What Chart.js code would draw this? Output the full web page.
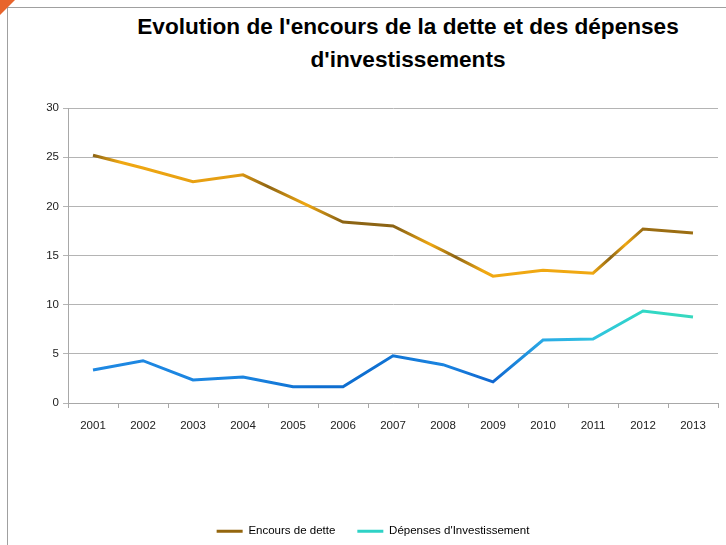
<!DOCTYPE html>
<html>
<head>
<meta charset="utf-8">
<script src="https://cdn.jsdelivr.net/npm/chart.js@4/dist/chart.umd.min.js"></script>
<style>
  body { margin: 0; width: 726px; height: 545px; overflow: hidden; position: relative; background: #fff; }
  #frame { position: absolute; left: 7px; top: 7px; width: 730px; height: 600px; border-left: 1px solid #a0a0a0; border-top: 1px solid #a0a0a0; }
  #corner { position: absolute; left: 0; top: 0; width: 0; height: 0; border-top: 15px solid #e8642c; border-right: 15px solid transparent; }
  #title { position: absolute; left: 0; top: 10px; width: 816px; text-align: center; font: bold 22.6px 'Liberation Sans Narrow', 'Arial Narrow', sans-serif; line-height: 33px; color: #000; }
  #chart { position: absolute; left: 0; top: 0; }
</style>
</head>
<body>
<div id="frame"></div>
<div id="corner"></div>
<div id="title">Evolution de l'encours de la dette et des dépenses<br>d'investissements</div>
<canvas id="chart" width="726" height="545"></canvas>
<script>
// ---- data ----
const years = ['2001', '2002', '2003', '2004', '2005', '2006', '2007', '2008', '2009', '2010', '2011', '2012', '2013'];
const encoursDette = [25.2, 23.9, 22.5, 23.2, 20.8, 18.4, 18.0, 15.5, 12.9, 13.5, 13.2, 17.7, 17.3];
const depensesInvest = [3.35, 4.3, 2.35, 2.65, 1.65, 1.65, 4.8, 3.9, 2.15, 6.4, 6.5, 9.35, 8.75];
const yTicks = [0, 5, 10, 15, 20, 25, 30];

// gradient stops along the category axis (index, colour) - Excel-ish shading
const detteStops = [
  [0, '#8c6414'], [0.55, '#f0a812'], [2.9, '#e39c12'], [3.5, '#8f6512'],
  [4.25, '#f0a812'], [4.95, '#8c6414'], [6.1, '#8c6414'], [6.75, '#f0a812'],
  [7.25, '#8c6414'], [7.8, '#f0a812'], [10.0, '#f0a812'], [10.35, '#8c6414'],
  [10.65, '#f0a812'], [11.0, '#9a6c12'], [12, '#9c6e12']
];
const investStops = [
  [0, '#1e88e2'], [3, '#1a84e0'], [4.5, '#0e6ed0'], [5.5, '#0e6ed0'],
  [7, '#1a84e0'], [8, '#0f66d0'], [9, '#2aaae6'], [10, '#30c2e0'],
  [11, '#30d8c6'], [12, '#38d8be']
];

function gradientFor(stops, fallback) {
  return function (ctx) {
    const chart = ctx.chart;
    if (!chart.chartArea) return fallback;
    const x = chart.scales.x;
    const x0 = x.getPixelForValue(0);
    const x1 = x.getPixelForValue(years.length - 1);
    const g = chart.ctx.createLinearGradient(x0, 0, x1, 0);
    stops.forEach(s => g.addColorStop(s[0] / (years.length - 1), s[1]));
    return g;
  };
}

const legendColors = ['#94660e', '#2ed2c6'];
const PAD_BOTTOM = 0;

// nudge the legend a bit, like in the Excel original
const legendShift = {
  id: 'legendShift',
  afterLayout(chart) {
    chart.legend.left += 14;
    chart.legend.right += 14;
    chart.legend.top += 2;
    chart.legend.bottom += 2;
  }
};

new Chart(document.getElementById('chart'), {
  type: 'line',
  data: {
    labels: years,
    datasets: [
      {
        label: 'Encours de dette',
        data: encoursDette,
        borderColor: gradientFor(detteStops, '#e8a012'),
        borderWidth: 3,
        pointRadius: 0,
        tension: 0
      },
      {
        label: "Dépenses d'Investissement",
        data: depensesInvest,
        borderColor: gradientFor(investStops, '#1e88e2'),
        borderWidth: 3,
        pointRadius: 0,
        tension: 0
      }
    ]
  },
  plugins: [legendShift],
  options: {
    responsive: false,
    animation: false,
    layout: { padding: { left: 0, right: 8, top: 108, bottom: PAD_BOTTOM } },
    plugins: {
      title: { display: false },
      tooltip: { enabled: false },
      legend: {
        position: 'bottom',
        labels: {
          boxWidth: 26,
          boxHeight: 3,
          padding: 22,
          color: '#333',
          font: { family: "'Liberation Sans', Arial, sans-serif", size: 11.5 },
          generateLabels: chart => chart.data.datasets.map((ds, i) => ({
            text: ds.label,
            fillStyle: legendColors[i],
            strokeStyle: legendColors[i],
            lineWidth: 0,
            datasetIndex: i
          }))
        }
      }
    },
    scales: {
      x: {
        offset: true,
        grid: { offset: true, drawOnChartArea: false, drawTicks: true, tickLength: 5, color: '#a8a8a8' },
        border: { color: '#a8a8a8' },
        ticks: { color: '#222', padding: 11, font: { family: "'Liberation Sans', Arial, sans-serif", size: 11.5 } },
        afterFit: s => { s.height = s.chart.height - PAD_BOTTOM - s.chart.legend.height - 403; }
      },
      y: {
        min: 0,
        max: 30,
        afterBuildTicks: s => { s.ticks = yTicks.map(v => ({ value: v })); },
        grid: { color: '#b4b4b4', tickLength: 5, lineWidth: 1 },
        border: { color: '#a8a8a8' },
        ticks: { color: '#222', padding: 4, font: { family: "'Liberation Sans', Arial, sans-serif", size: 11.5 } },
        afterFit: s => { s.width = 68; }
      }
    }
  }
});
</script>
</body>
</html>
